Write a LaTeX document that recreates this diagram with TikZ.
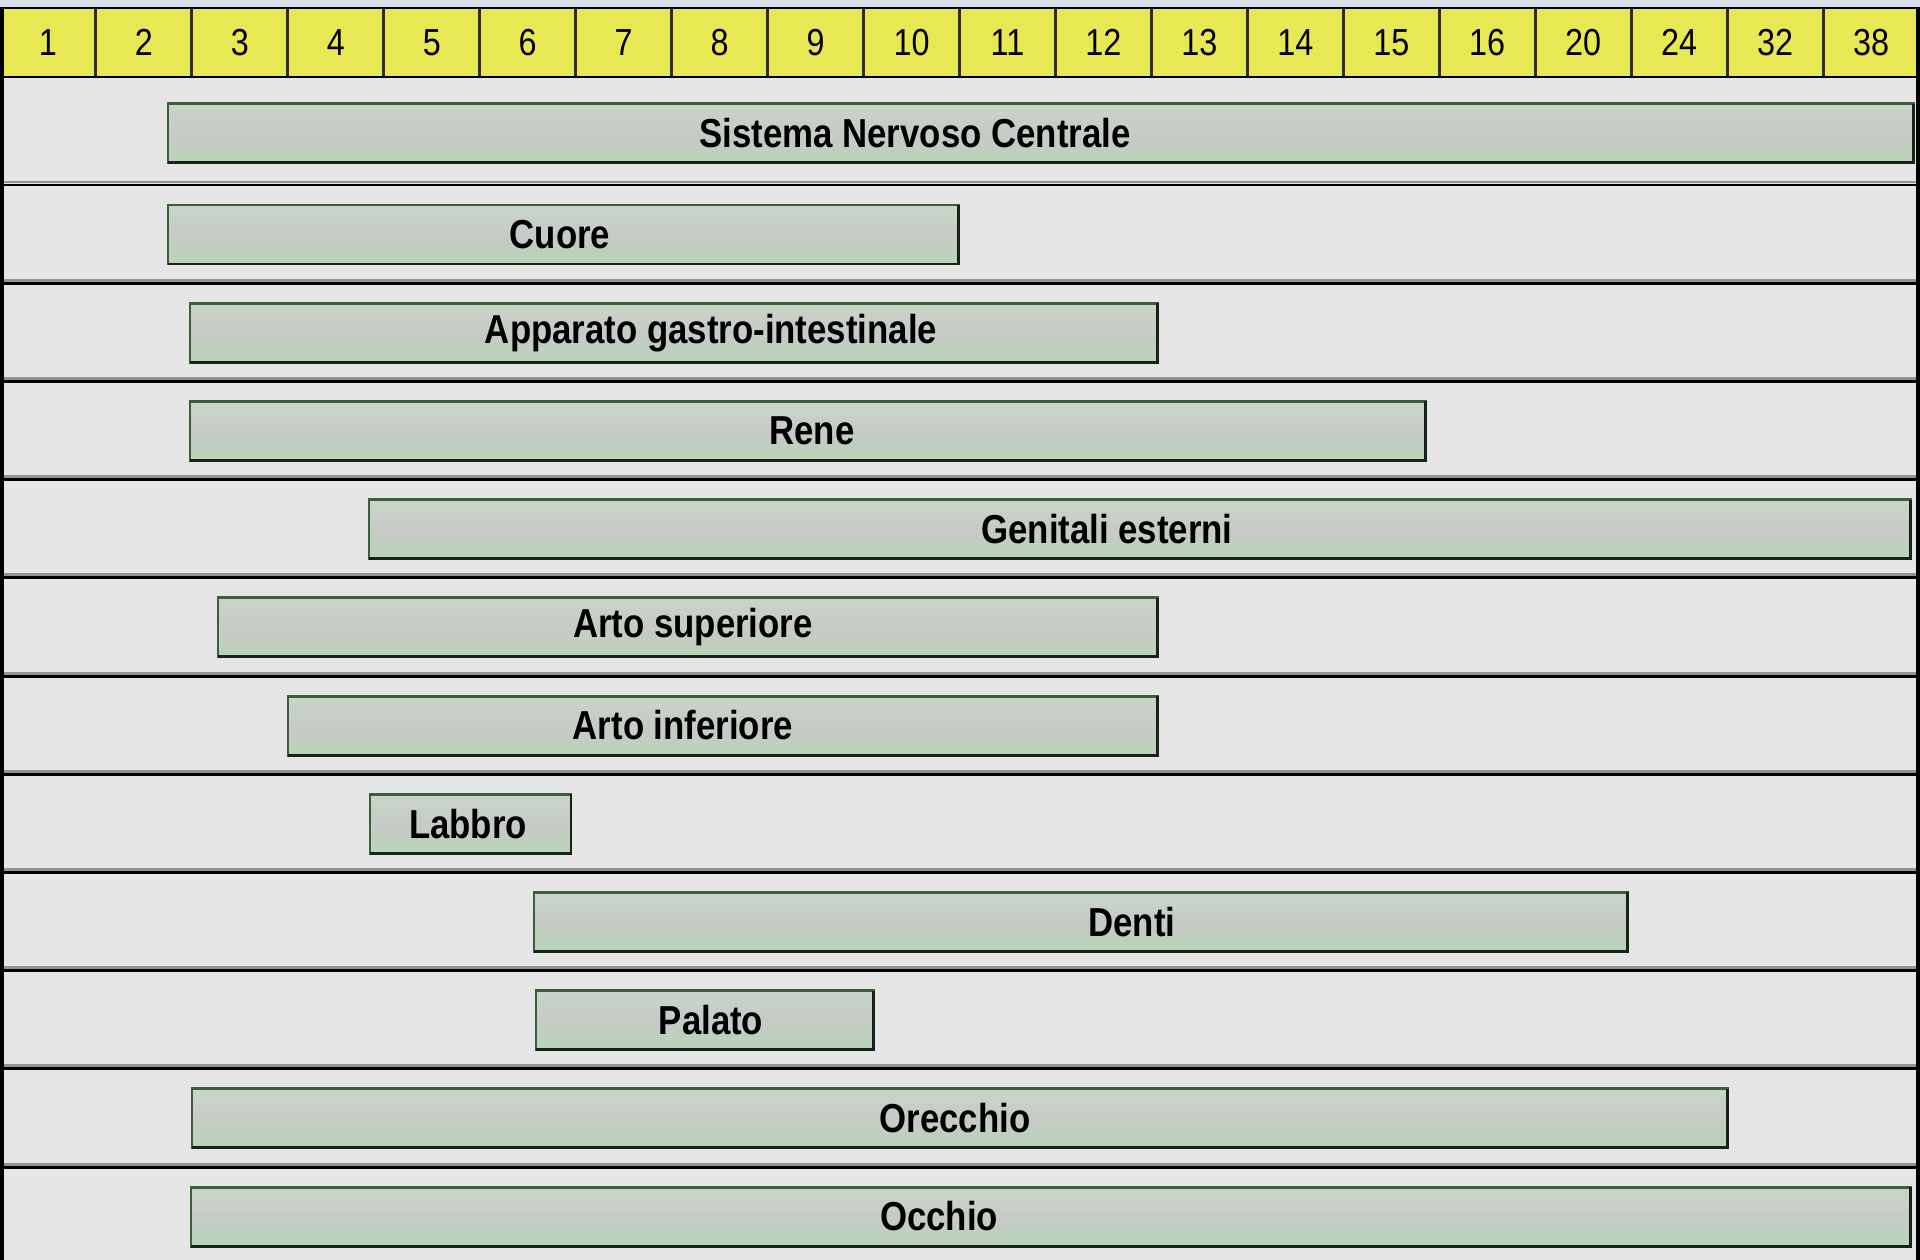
\documentclass[tikz,border=0pt]{standalone}
\usepackage{fontspec}
\newfontfamily\chartfont[FakeStretch=0.86]{Liberation Sans}
\usetikzlibrary{calc}
\definecolor{panelgray}{RGB}{230,230,230}
\definecolor{topstrip}{RGB}{218,225,233}
\definecolor{hdryellow}{RGB}{232,232,84}
\definecolor{hdrline}{RGB}{45,45,20}
\definecolor{barfill}{RGB}{199,202,199}
\definecolor{barlight}{RGB}{200,214,200}
\definecolor{barglow}{RGB}{184,212,184}
\definecolor{bargreen}{RGB}{58,95,58}
\definecolor{bardark}{RGB}{22,36,22}
\tikzstyle{hdrcell} = [draw=hdrline, line width=0.85pt, fill=hdryellow]
\tikzstyle{hdrnum} = [font=\chartfont\fontsize{10.7}{12}\selectfont, text=black, inner sep=0pt]
\tikzstyle{barbox} = [draw=bargreen, line width=0.85pt, top color=barlight, bottom color=barglow, middle color=barfill]
\tikzstyle{baredge} = [draw=bardark, line width=0.85pt]
\tikzstyle{organ} = [font=\chartfont\bfseries\fontsize{11.5}{13}\selectfont, text=black, inner sep=0pt]
\tikzstyle{rowline} = [draw=black, line width=0.85pt]
\tikzstyle{rowshade} = [draw=gray!85, line width=0.85pt]
\tikzstyle{frameline} = [draw=black, line width=1.2pt]

% name, left, right, row y, label x, text
\newcommand{\organbar}[6]{%
  \coordinate (#1-nw) at (#2,#4-29.5);
  \coordinate (#1-se) at (#3,#4+29.5);
  \path[barbox] (#1-nw) rectangle (#1-se);
  \draw[baredge] (#1-nw |- #1-se) -- (#1-se) -- (#1-se |- #1-nw);
  \node[organ] (#1) at (#5,#4) {#6};
}

\begin{document}
\begin{tikzpicture}[x=0.01cm, y=-0.01cm]
    \useasboundingbox (0,0) rectangle (1920,1260);
    \fill[panelgray] (0,0) rectangle (1920,1260);
    \fill[topstrip] (0,0) rectangle (1920,8);

    % week header
    \foreach \n [count=\k from 0] in {1,...,16,20,24,32,38} {
        \path[hdrcell] ({\k*95.95},8) rectangle ({(\k+1)*95.95},77);
        \node[hdrnum] (wk\n) at ({(\k+0.5)*95.95},42.5) {\n};
    }
    \draw[rowline] (0,8) -- (1920,8);
    \draw[rowline] (0,77) -- (1920,77);

    % row separators
    \foreach \i in {0,...,10} {
        \draw[rowshade] (0,{182+98.2*\i}) -- (1920,{182+98.2*\i});
        \draw[rowline] (0,{185+98.2*\i}) -- (1920,{185+98.2*\i});
    }

    \organbar{snc}{168}{1913}{133}{915}{Sistema Nervoso Centrale}
    \organbar{cuore}{168}{958}{234.5}{560}{Cuore}
    \organbar{gastro}{190}{1157}{332.7}{711}{Apparato gastro-intestinale}
    \organbar{rene}{190}{1425}{430.9}{812}{Rene}
    \organbar{genitali}{369}{1910}{529.1}{1107}{Genitali esterni}
    \organbar{artosup}{218}{1157}{627.3}{693}{Arto superiore}
    \organbar{artoinf}{288}{1157}{725.5}{683}{Arto inferiore}
    \organbar{labbro}{370}{571}{823.7}{468}{Labbro}
    \organbar{denti}{534}{1627}{921.9}{1132}{Denti}
    \organbar{palato}{536}{873}{1020.1}{711}{Palato}
    \organbar{orecchio}{192}{1727}{1118.3}{955}{Orecchio}
    \organbar{occhio}{191}{1910}{1216.5}{939}{Occhio}

    \draw[frameline] (1.5,8) -- (1.5,1260);
    \draw[frameline] (1918,8) -- (1918,1260);
\end{tikzpicture}
\end{document}
